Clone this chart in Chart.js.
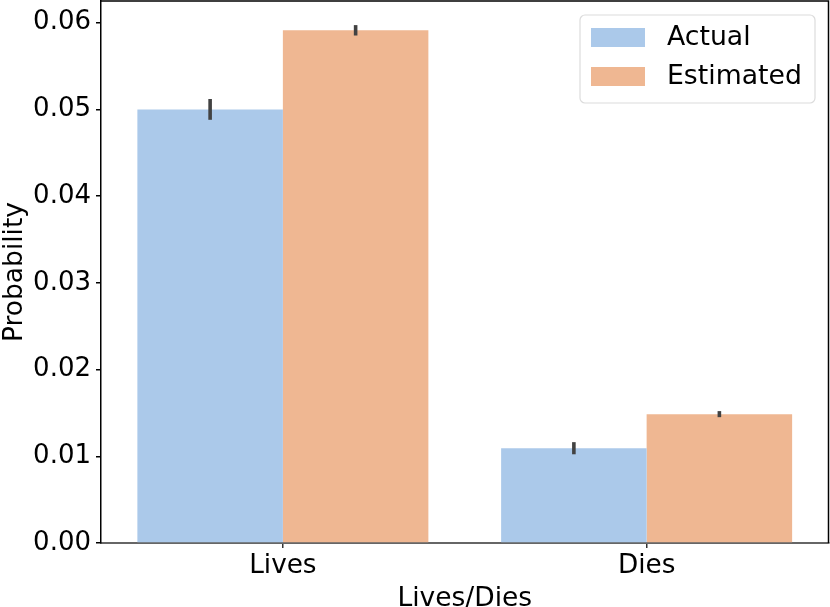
<!DOCTYPE html>
<html>
<head>
<meta charset="utf-8">
<script src="https://cdn.jsdelivr.net/npm/chart.js@4/dist/chart.umd.min.js"></script>
<style>
  html, body { margin: 0; padding: 0; background: #ffffff; }
  #wrap { width: 830px; height: 607px; position: relative; }
</style>
</head>
<body>
<div id="wrap"><canvas id="c"></canvas></div>
<script>
const categories = ["Lives", "Dies"];
const seriesNames = ["Actual", "Estimated"];
const actualValues = [0.0500, 0.01093];
const estimatedValues = [0.05912, 0.01486];
const actualErrors = [0.0012, 0.0007];
const estimatedErrors = [0.0006, 0.00035];
const yTicks = [0.00, 0.01, 0.02, 0.03, 0.04, 0.05, 0.06];
const yMax = 0.0625;

const FONT = "'DejaVu Sans', sans-serif";
const colors = ["#abc9ea", "#efb792"];
const errorSets = [actualErrors, estimatedErrors];

const errorBarPlugin = {
  id: 'errorBars',
  afterDatasetsDraw(chart) {
    const ctx = chart.ctx;
    const yScale = chart.scales.y;
    ctx.save();
    ctx.strokeStyle = '#424242';
    ctx.lineWidth = 3.6;
    ctx.lineCap = 'butt';
    chart.data.datasets.forEach((ds, i) => {
      const meta = chart.getDatasetMeta(i);
      meta.data.forEach((bar, j) => {
        const v = ds.data[j];
        const e = errorSets[i][j];
        const x = bar.x;
        ctx.beginPath();
        ctx.moveTo(x, yScale.getPixelForValue(v + e));
        ctx.lineTo(x, yScale.getPixelForValue(v - e));
        ctx.stroke();
      });
    });
    ctx.restore();
  }
};

const framePlugin = {
  id: 'frame',
  afterDraw(chart) {
    const ctx = chart.ctx;
    const a = chart.chartArea;
    ctx.save();
    ctx.strokeStyle = '#000000';
    ctx.lineWidth = 1.5;
    ctx.beginPath();
    ctx.moveTo(a.left, a.top);
    ctx.lineTo(a.right, a.top);
    ctx.lineTo(a.right, a.bottom);
    ctx.stroke();
    ctx.restore();

    // legend
    const x0 = 580, y0 = 15, w = 235, h = 88, r = 5;
    ctx.save();
    ctx.fillStyle = 'rgba(255,255,255,0.85)';
    ctx.strokeStyle = '#dcdcdc';
    ctx.lineWidth = 1.2;
    ctx.beginPath();
    ctx.moveTo(x0 + r, y0);
    ctx.lineTo(x0 + w - r, y0);
    ctx.arcTo(x0 + w, y0, x0 + w, y0 + r, r);
    ctx.lineTo(x0 + w, y0 + h - r);
    ctx.arcTo(x0 + w, y0 + h, x0 + w - r, y0 + h, r);
    ctx.lineTo(x0 + r, y0 + h);
    ctx.arcTo(x0, y0 + h, x0, y0 + h - r, r);
    ctx.lineTo(x0, y0 + r);
    ctx.arcTo(x0, y0, x0 + r, y0, r);
    ctx.closePath();
    ctx.fill();
    ctx.stroke();
    ctx.font = "26.7px " + FONT;
    ctx.textBaseline = 'middle';
    ctx.textAlign = 'left';
    chart.data.datasets.forEach((ds, i) => {
      const cy = 37.5 + i * 39;
      ctx.fillStyle = ds.backgroundColor;
      ctx.fillRect(591, cy - 9.5, 54, 19);
      ctx.fillStyle = '#000000';
      ctx.fillText(ds.label, 667, cy + 1);
    });
    ctx.restore();
  }
};

new Chart(document.getElementById('c'), {
  type: 'bar',
  data: {
    labels: categories,
    datasets: [
      { label: seriesNames[0], data: actualValues, backgroundColor: colors[0], borderWidth: 0 },
      { label: seriesNames[1], data: estimatedValues, backgroundColor: colors[1], borderWidth: 0 }
    ]
  },
  options: {
    responsive: true,
    maintainAspectRatio: false,
    animation: false,
    devicePixelRatio: 1,
    layout: { padding: { top: 1, right: 1.5, left: 0, bottom: 0 } },
    datasets: { bar: { barPercentage: 1.0, categoryPercentage: 0.8 } },
    plugins: { legend: { display: false }, tooltip: { enabled: false } },
    scales: {
      x: {
        type: 'category',
        offset: true,
        grid: { display: true, drawOnChartArea: false, drawTicks: true, tickLength: 5, offset: false, color: '#333333', lineWidth: 1.5 },
        border: { display: true, color: '#666666', width: 2 },
        ticks: { font: { family: FONT, size: 26.3 }, color: '#000000', padding: 2 },
        title: { display: true, text: 'Lives/Dies', font: { family: FONT, size: 26.5, lineHeight: 1 }, color: '#000000', padding: { top: 0, bottom: -5 } },
        afterFit(scale) { scale.height = 64; scale.paddingLeft = 0; scale.paddingRight = 0; }
      },
      y: {
        min: 0,
        max: yMax,
        afterBuildTicks(scale) { scale.ticks = yTicks.map(v => ({ value: v })); },
        grid: { display: true, drawOnChartArea: false, drawTicks: true, tickLength: 5, color: '#000000', lineWidth: 1.5 },
        border: { display: true, color: '#000000', width: 1.5 },
        ticks: { font: { family: FONT, size: 26 }, color: '#000000', padding: 5, callback: (v) => Number(v).toFixed(2) },
        title: { display: true, text: 'Probability', font: { family: FONT, size: 26.5, lineHeight: 1 }, color: '#000000', padding: { top: 2, bottom: 0 } },
        afterFit(scale) { scale.width = 101; scale.paddingTop = 0; scale.paddingBottom = 0; }
      }
    }
  },
  plugins: [errorBarPlugin, framePlugin]
});
</script>
</body>
</html>
